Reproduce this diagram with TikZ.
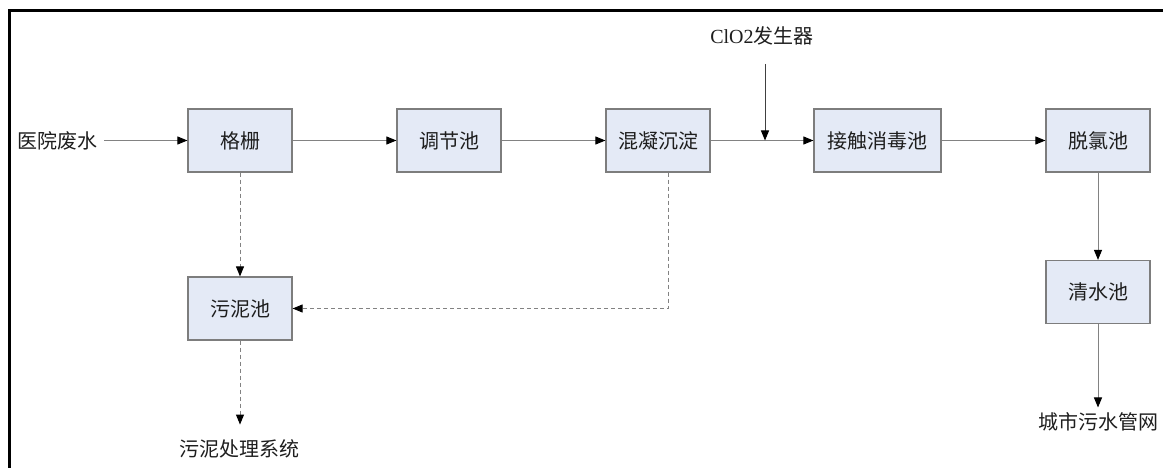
\documentclass[tikz,border=0pt]{standalone}
\usepackage{fontspec}
\setmainfont{Liberation Serif}
\newfontfamily\cjk{Noto Sans CJK SC}
\usetikzlibrary{arrows.meta}
\definecolor{boxfill}{RGB}{228,234,246}
\definecolor{boxline}{RGB}{125,125,125}
\definecolor{lin}{RGB}{130,130,130}
\definecolor{txt}{RGB}{30,30,30}
\begin{document}
\begin{tikzpicture}[x=1pt,y=-1pt,
  box/.style={draw=boxline, fill=boxfill, line width=1.2pt, minimum width=104pt,
    minimum height=63pt, inner sep=0pt, font=\cjk\fontsize{20}{20}\selectfont, text=txt},
  lbl/.style={inner sep=0pt, font=\cjk\fontsize{20}{20}\selectfont, text=txt},
  flow/.style={draw=lin, line width=1pt, -{Triangle[length=10pt,width=8pt,color=black]}},
  dflow/.style={flow, dash pattern=on 4pt off 3pt},
  frame/.style={draw=black, line width=2.2pt}
]
\useasboundingbox (0,0) rectangle (1163,468);
\draw[frame] (9.5,468) -- (9.5,10.5) -- (1163,10.5);

\node[box] (gs) at (240,140.5) {格栅};
\node[box] (tj) at (449,140.5) {调节池};
\node[box] (hn) at (658,140.5) {混凝沉淀};
\node[box, minimum width=127pt] (jc) at (877.5,140.5) {接触消毒池};
\node[box] (tl) at (1098,140.5) {脱氯池};
\node[box] (qs) at (1098,292) {清水池};
\node[box] (wn) at (240,308.5) {污泥池};

\node[lbl] (in) at (57,140.5) {医院废水};
\node[lbl, font=\fontsize{20}{20}\selectfont] (clo) at (762,36) {ClO2{\cjk 发生器}};
\node[lbl] (wncl) at (239,449) {污泥处理系统};
\node[lbl] (cs) at (1098,422) {城市污水管网};

\coordinate (ctop) at (765,64);
\coordinate (cjoin) at (765,140.5);

\draw[flow, shorten <=7pt] (in.east) -- (gs.west);
\draw[flow] (gs) -- (tj);
\draw[flow] (tj) -- (hn);
\draw[flow] (hn) -- (jc);
\draw[flow, draw=black!75] (ctop) -- (cjoin);
\draw[flow] (jc) -- (tl);
\draw[flow] (tl) -- (qs);
\draw[flow, shorten >=5pt] (qs.south) -- (qs.south |- cs.north);
\draw[dflow] (gs) -- (wn);
\draw[dflow] ([xshift=10pt]hn.south) |- (wn.east);
\draw[dflow, shorten >=15pt] (wn.south) -- (wn.south |- wncl.north);
\end{tikzpicture}
\end{document}
